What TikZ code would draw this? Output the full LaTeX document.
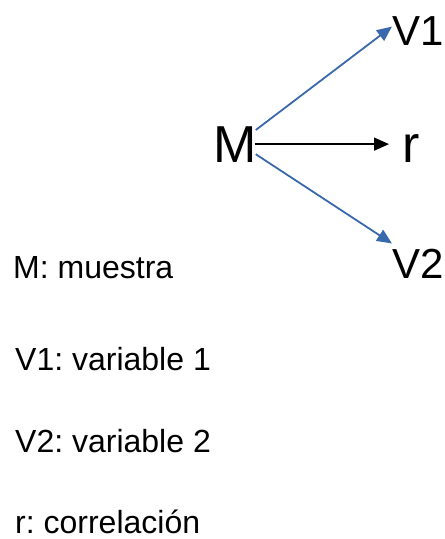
\documentclass[tikz,border=0pt]{standalone}
\usepackage{fontspec}
\setmainfont{Liberation Sans}
\usetikzlibrary{arrows.meta}
\definecolor{linkblue}{RGB}{58,104,172}
\frenchspacing
\tikzset{
  big/.style={inner sep=0pt, anchor=base west, font=\fontsize{52}{60}\selectfont},
  var/.style={inner sep=0pt, anchor=base west, font=\fontsize{42}{50}\selectfont},
  key/.style={inner sep=0pt, anchor=base west, font=\fontsize{32}{38}\selectfont},
  arr/.style={-{Triangle[length=15pt,width=13pt]}, line width=1.6pt},
  barr/.style={arr, linkblue, line width=1.8pt}}

\begin{document}
\begin{tikzpicture}[x=1pt, y=1pt]
  \useasboundingbox (0,0) rectangle (445,-539);
  \node[big] (m) at (213,-162) {M};
  \node[big] (r) at (402,-162) {r};
  \node[var] (v1) at (392,-45) {V1};
  \node[var] (v2) at (392,-278) {V2};
  \node[key] (km) at (13,-278) {M: muestra};
  \node[key] (kv1) at (15,-370) {V1: variable 1};
  \node[key] (kv2) at (15,-452) {V2: variable 2};
  \node[key] (kr) at (15,-533) {r: correlación};
  \draw[barr] ([shift={(-1pt,-4pt)}]m.north east) -- ([yshift=4pt]v1.west);
  \draw[arr] ([xshift=-2pt]m.east) -- ([xshift=-13pt]m.east -| r.west);
  \draw[barr] ([shift={(-1pt,8pt)}]m.south east) -- ([yshift=5pt]v2.north west);
\end{tikzpicture}
\end{document}
